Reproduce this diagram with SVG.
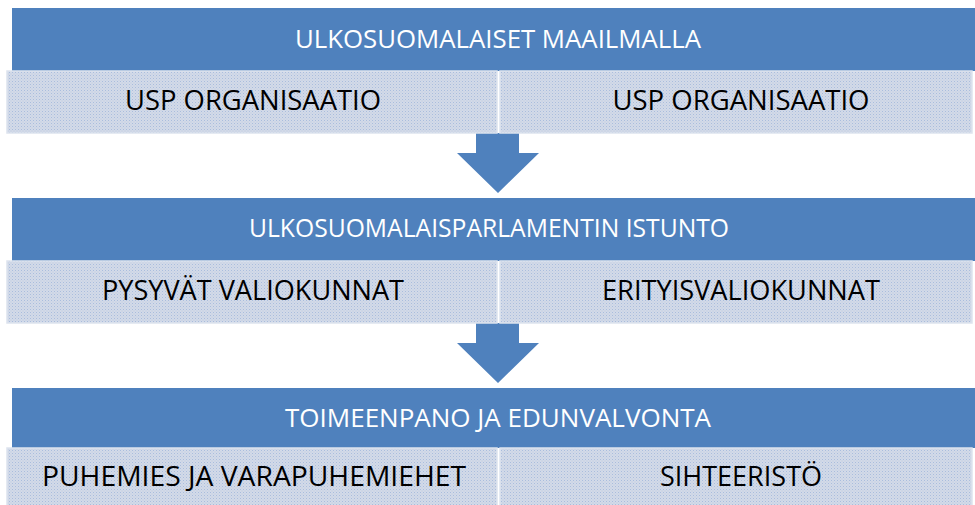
<svg xmlns="http://www.w3.org/2000/svg" width="975" height="505" viewBox="0 0 975 505">
<style>
.bar{fill:#4F81BD}
.cell{fill:url(#dots);stroke:#DDE3EE;stroke-width:1.5}
.ht{font-family:"Open Sans","Liberation Sans",sans-serif;font-size:25px;fill:#FFFFFF;text-anchor:middle}
.ct{font-family:"Open Sans","Liberation Sans",sans-serif;font-size:27px;fill:#000000;text-anchor:middle}
.arrow{fill:#4F81BD}
</style>
<defs>
<pattern id="dots" width="3" height="3" patternUnits="userSpaceOnUse">
<rect width="3" height="3" fill="#D3DAE8"/>
<rect x="0" y="0" width="1" height="1" fill="#A9BDDD"/>
<rect x="1.5" y="1.5" width="1" height="1" fill="#BCCAE2"/>
</pattern>
</defs>
<rect width="975" height="505" fill="#FFFFFF"/>

<g id="connectors">
<path class="arrow" d="M476,133 H519 V153 H539 L498,193 L457,153 H476 Z"/>
<path class="arrow" d="M476,323 H519 V343 H539 L498,383 L457,343 H476 Z"/>
</g>

<g id="bar1">
<rect class="bar" x="12" y="8" width="963" height="63"/>
<text class="ht" x="498" y="48" textLength="406" lengthAdjust="spacingAndGlyphs">ULKOSUOMALAISET MAAILMALLA</text>
</g>
<g id="cell1a">
<rect class="cell" x="7" y="71" width="490" height="62"/>
<text class="ct" x="253" y="110" textLength="256" lengthAdjust="spacingAndGlyphs">USP ORGANISAATIO</text>
</g>
<g id="cell1b">
<rect class="cell" x="500" y="71" width="472" height="62"/>
<text class="ct" x="741" y="110" textLength="257" lengthAdjust="spacingAndGlyphs">USP ORGANISAATIO</text>
</g>

<g id="bar2">
<rect class="bar" x="12" y="198" width="963" height="63"/>
<text class="ht" x="489" y="237" textLength="480" lengthAdjust="spacingAndGlyphs">ULKOSUOMALAISPARLAMENTIN ISTUNTO</text>
</g>
<g id="cell2a">
<rect class="cell" x="7" y="261" width="490" height="62"/>
<text class="ct" x="253" y="300" textLength="302" lengthAdjust="spacingAndGlyphs">PYSYVÄT VALIOKUNNAT</text>
</g>
<g id="cell2b">
<rect class="cell" x="500" y="261" width="472" height="62"/>
<text class="ct" x="741" y="300" textLength="278" lengthAdjust="spacingAndGlyphs">ERITYISVALIOKUNNAT</text>
</g>

<g id="bar3">
<rect class="bar" x="12" y="388" width="963" height="60"/>
<text class="ht" x="498" y="427" textLength="426" lengthAdjust="spacingAndGlyphs">TOIMEENPANO JA EDUNVALVONTA</text>
</g>
<g id="cell3a">
<rect class="cell" x="7" y="448" width="490" height="62"/>
<text class="ct" x="254" y="486" textLength="424" lengthAdjust="spacingAndGlyphs">PUHEMIES JA VARAPUHEMIEHET</text>
</g>
<g id="cell3b">
<rect class="cell" x="500" y="448" width="472" height="62"/>
<text class="ct" x="741" y="486" textLength="162" lengthAdjust="spacingAndGlyphs">SIHTEERISTÖ</text>
</g>
</svg>
